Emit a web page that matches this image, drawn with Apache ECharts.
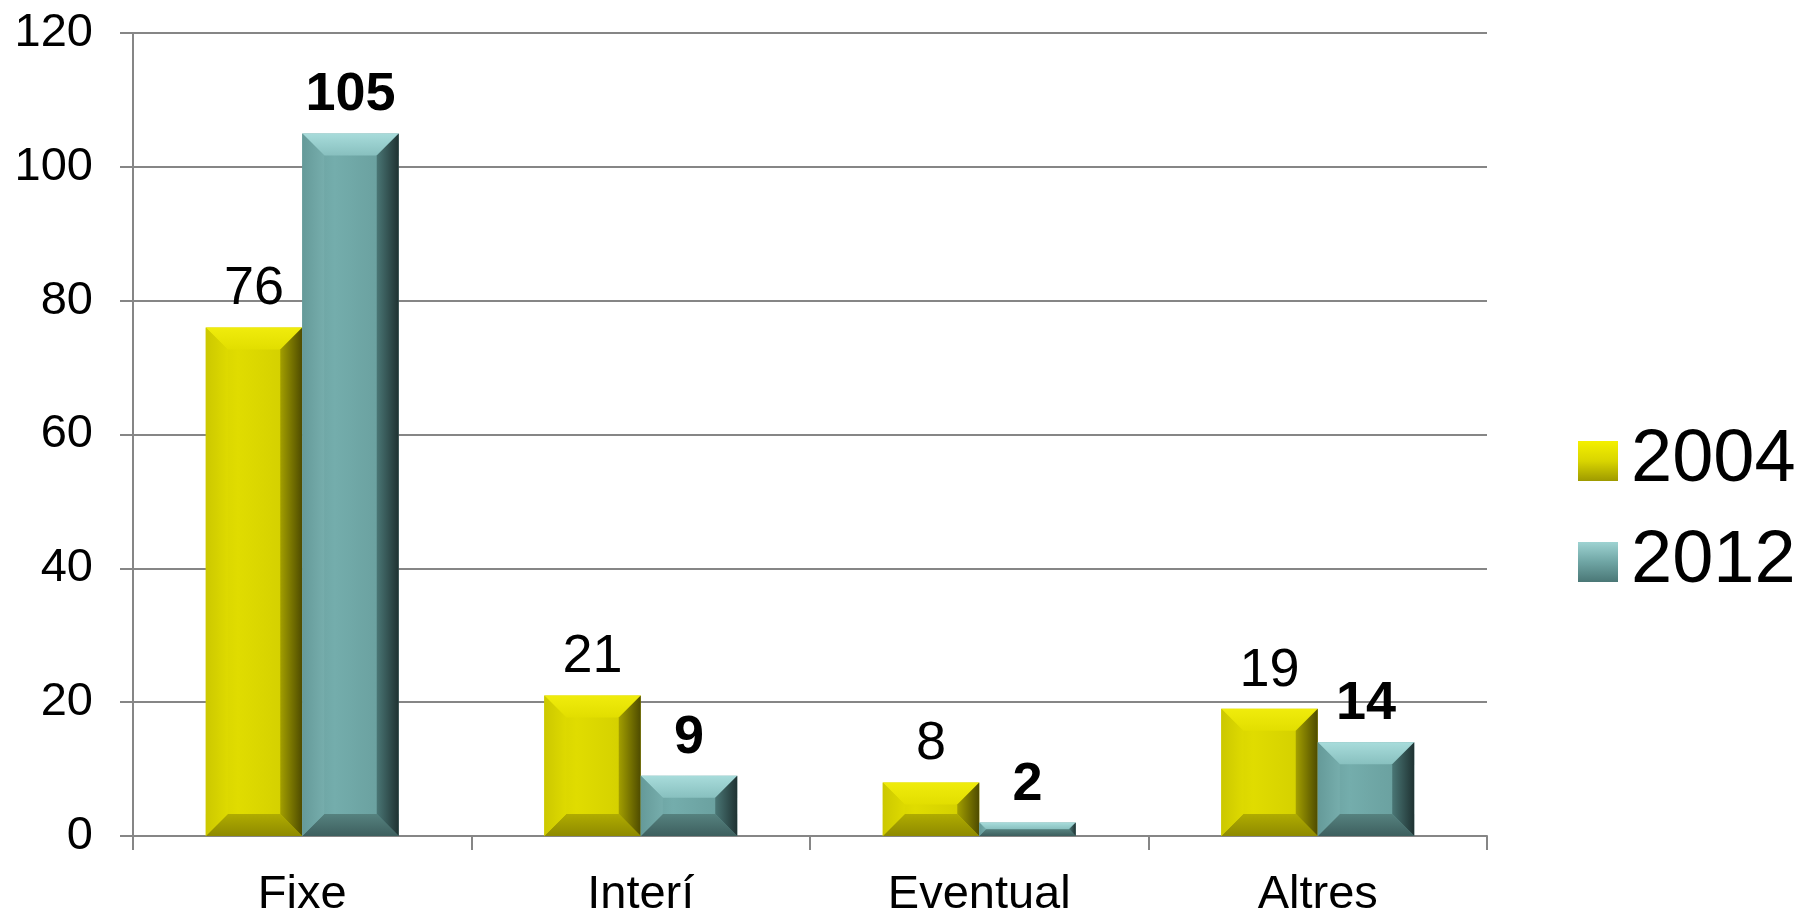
<!DOCTYPE html>
<html>
<head>
<meta charset="utf-8">
<script src="https://cdn.jsdelivr.net/npm/echarts@6/dist/echarts.min.js"></script>
<style>html,body{margin:0;padding:0;background:#fff;}#c{width:1803px;height:916px;}</style>
</head>
<body>
<div id="c"></div>
<script>
const categories = ['Fixe', 'Interí', 'Eventual', 'Altres'];
const seriesNames = ['2004', '2012'];
const values2004 = [76, 21, 8, 19];
const values2012 = [105, 9, 2, 14];
const yTicks = [0, 20, 40, 60, 80, 100, 120];

const FONT = '"Liberation Sans", Arial, sans-serif';
const BAR_FRAC = 0.285;
const BEVEL = 22;

function lg(stops) {
  return new echarts.graphic.LinearGradient(0, 0, 1, 0, stops.map((c, i) => ({ offset: i / (stops.length - 1), color: c })));
}
function vg(stops) {
  return new echarts.graphic.LinearGradient(0, 0, 0, 1, stops.map((c, i) => ({ offset: i / (stops.length - 1), color: c })));
}
const palettes = [
  {
    face: lg(['#D3CF00', '#E0DC00', '#D8D400', '#CFCB00']),
    top: vg(['#F0EC0C', '#E2DE00']),
    bottom: vg(['#B0AC00', '#8E8A00']),
    left: lg(['#CCC800', '#DEDA00']),
    right: lg(['#A39F00', '#4E4B00']),
    legend: vg(['#F4F000', '#D9D500', '#9E9A00']), bold: false
  },
  {
    face: lg(['#679C9B', '#74ADAC', '#6DA4A3', '#689D9C']),
    top: vg(['#A8DCDB', '#88C0BF']),
    bottom: vg(['#56827F', '#3D5F5E']),
    left: lg(['#659A99', '#76ADAC']),
    right: lg(['#4A7675', '#1F3232']),
    legend: vg(['#9ED3D2', '#6FA5A4', '#4A7776']), bold: true
  }
];

function makeRender(sIdx) {
  const p = palettes[sIdx];
  return function (params, api) {
    const ci = api.value(0), val = api.value(1);
    const base = api.coord([ci, 0]);
    const top = api.coord([ci, val]);
    const catW = api.size([1, 0])[0];
    const bw = catW * BAR_FRAC;
    const x0 = base[0] + (sIdx === 0 ? -bw : 0);
    const x1 = x0 + bw;
    const y0 = top[1], y1 = base[1];
    const h = y1 - y0;
    const b = Math.min(BEVEL, h / 2, bw / 2);
    return {
      type: 'group',
      children: [
        {
          type: 'rect', shape: { x: x0, y: y0, width: bw, height: h },
          style: { fill: p.face },
          textContent: {
            style: {
              text: String(val), fill: '#000', fontSize: 54, fontFamily: FONT,
              fontWeight: p.bold ? 'bold' : 'normal'
            }
          },
          textConfig: { position: 'top', distance: 11 }
        },
        { type: 'polygon', shape: { points: [[x0, y0], [x1, y0], [x1 - b, y0 + b], [x0 + b, y0 + b]] }, style: { fill: p.top } },
        { type: 'polygon', shape: { points: [[x0, y1], [x1, y1], [x1 - b, y1 - b], [x0 + b, y1 - b]] }, style: { fill: p.bottom } },
        { type: 'polygon', shape: { points: [[x0, y0], [x0 + b, y0 + b], [x0 + b, y1 - b], [x0, y1]] }, style: { fill: p.left } },
        { type: 'polygon', shape: { points: [[x1, y0], [x1 - b, y0 + b], [x1 - b, y1 - b], [x1, y1]] }, style: { fill: p.right } }
      ]
    };
  };
}

const chart = echarts.init(document.getElementById('c'), null, { renderer: 'canvas' });
const dataSets = [values2004, values2012];
chart.setOption({
  animation: false,
  backgroundColor: '#fff',
  grid: { left: 133, right: 316, top: 33, bottom: 80, containLabel: false, outerBoundsMode: 'none' },
  legend: {
    orient: 'vertical', left: 1573, top: 419,
    itemWidth: 40, itemHeight: 40, itemGap: 27, icon: 'rect',
    textStyle: { fontSize: 74, fontFamily: FONT, color: '#000', padding: [0, 0, 0, 8] },
    data: seriesNames
  },
  xAxis: {
    type: 'category', data: categories,
    axisLine: { lineStyle: { color: '#868686', width: 2 } },
    axisTick: { show: true, length: 14, lineStyle: { color: '#868686', width: 2 } },
    axisLabel: { fontSize: 47, fontFamily: FONT, color: '#000', margin: 36 }
  },
  yAxis: {
    type: 'value', min: yTicks[0], max: yTicks[yTicks.length - 1], interval: yTicks[1] - yTicks[0],
    axisLine: { show: true, lineStyle: { color: '#868686', width: 2 } },
    axisTick: { show: true, length: 13, lineStyle: { color: '#868686', width: 2 } },
    splitLine: { lineStyle: { color: '#868686', width: 2 } },
    axisLabel: { fontSize: 47, fontFamily: FONT, color: '#000', margin: 40 }
  },
  series: seriesNames.map((name, s) => ({
    type: 'custom', name: name,
    itemStyle: { color: palettes[s].legend },
    encode: { x: 0, y: 1 },
    data: dataSets[s].map((v, i) => [i, v]),
    renderItem: makeRender(s),
    z: 3
  }))
});
</script>
</body>
</html>
